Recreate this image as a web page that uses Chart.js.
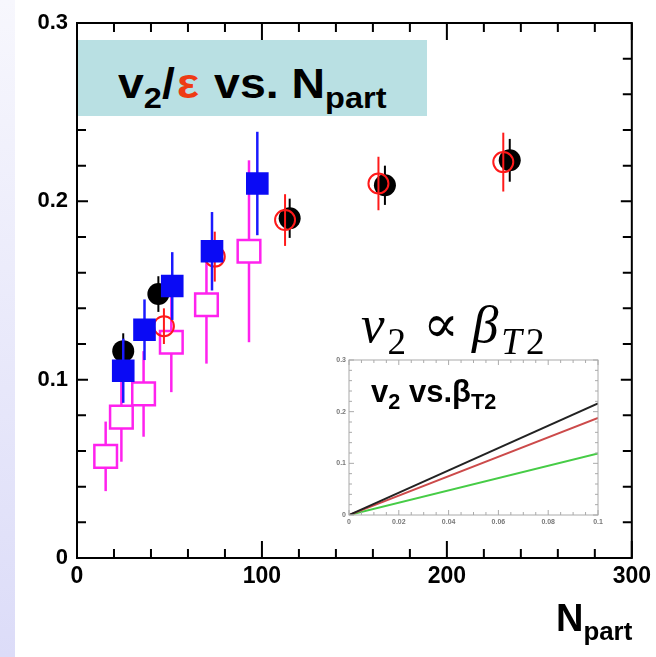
<!DOCTYPE html>
<html>
<head>
<meta charset="utf-8">
<script src="https://cdn.jsdelivr.net/npm/chart.js@4.4.0/dist/chart.umd.min.js"></script>
<style>
  html, body { margin: 0; padding: 0; }
  body { width: 656px; height: 657px; position: relative; overflow: hidden; background: #fff;
         font-family: Arial, "Liberation Sans", sans-serif; }
  #strip { position: absolute; left: 0; top: 0; width: 15px; height: 657px;
           background: linear-gradient(#f7f7fd, #dcdcf8); }
  #main { position: absolute; left: 0; top: 0; }
  #titleBox { position: absolute; left: 78px; top: 40px; width: 349px; height: 76px; background: #b9e0e3; }
  .lbl { position: absolute; white-space: nowrap; font-weight: bold; color: #000; }
  #title { left: 118px; top: 62px; font-size: 43px; line-height: 43px; transform: scaleX(1.08); transform-origin: left top; }
  #title .eps { color: #ee3b14; margin: 0 2px; }
  .sub { position: relative; font-size: 70%; top: 0.34em; }
  #prop { position: absolute; left: 361px; top: 298px; font-family: "Liberation Serif", "DejaVu Serif", serif;
          font-size: 53px; line-height: 53px; font-weight: normal; white-space: nowrap; }
  #prop i { font-style: italic; }
  #prop .psub { position: relative; font-size: 70%; top: 0.33em; margin-left: 3px; }
  #prop .psub .two { margin-left: 4px; }
  #prop .rel { margin: 0 13px 0 17px; }
  #insetWrap { position: absolute; left: 327px; top: 350px; width: 280px; height: 185px; background: #fff; }
  #inset { filter: blur(0.5px); }
  #insetTitle { left: 371px; top: 376px; font-size: 31px; line-height: 31px; }
  #xTitle { left: 556px; top: 599px; font-size: 38px; line-height: 38px; }
  #xTitle .sub { font-size: 68%; top: 0.36em; }
</style>
</head>
<body>
<div id="strip"></div>
<canvas id="main" width="656" height="657"></canvas>
<div id="titleBox"></div>
<div class="lbl" id="title">v<span class="sub">2</span>/<span class="eps">&epsilon;</span> vs. N<span class="sub">part</span></div>
<div id="insetWrap"><canvas id="inset" width="280" height="185"></canvas></div>
<div id="prop"><i>v</i><span class="psub">2</span><span class="rel">&prop;</span><i>&beta;</i><span class="psub"><i>T</i><span class="two">2</span></span></div>
<div class="lbl" id="insetTitle">v<span class="sub">2</span> vs.&beta;<span class="sub">T2</span></div>
<div class="lbl" id="xTitle">N<span class="sub">part</span></div>

<script>
// v2/eps vs Npart, four data sets
const blackN = [25, 44, 115, 166.5, 234];
const blackV = [0.116, 0.148, 0.1905, 0.209, 0.223];
const blackErr = [0.010, 0.010, 0.011, 0.011, 0.012];

const redN = [47, 74.5, 112.5, 163, 230.5];
const redV = [0.130, 0.169, 0.1895, 0.210, 0.222];
const redErr = [0.010, 0.014, 0.0145, 0.015, 0.0165];

const blueN = [25, 36.5, 51.5, 73, 97.5];
const blueV = [0.105, 0.128, 0.1525, 0.172, 0.210];
const blueErr = [0.018, 0.017, 0.019, 0.022, 0.029];

const magN = [15.5, 24, 36, 51, 70, 93];
const magV = [0.057, 0.079, 0.092, 0.121, 0.142, 0.172];
const magErr = [0.0195, 0.025, 0.024, 0.028, 0.033, 0.051];

// inset: v2 vs beta_T2, straight lines from the origin
const betaT2 = [0, 0.1];
const insetBlack = [0, 0.216];
const insetRed = [0, 0.188];
const insetGreen = [0, 0.119];

function pts(xs, ys) {
    return xs.map((x, i) => ({ x: x, y: ys[i] }));
}

// vertical error bars, drawn just before each data set's markers
const errorBars = {
    id: 'errorBars',
    beforeDatasetDraw(chart, args) {
        const ds = chart.data.datasets[args.index];
        if (!ds.errorBars) return;
        const ctx = chart.ctx;
        const xs = chart.scales.x, ys = chart.scales.y;
        ctx.save();
        ctx.strokeStyle = ds.errorColor;
        ctx.lineWidth = ds.errorWidth || 2;
        ds.data.forEach((p, i) => {
            const px = xs.getPixelForValue(p.x);
            ctx.beginPath();
            ctx.moveTo(px, ys.getPixelForValue(p.y - ds.errorBars[i]));
            ctx.lineTo(px, ys.getPixelForValue(p.y + ds.errorBars[i]));
            ctx.stroke();
        });
        ctx.restore();
    }
};

// box frame with inward ticks on all four sides
function frameTicks(opts) {
    return {
        id: 'frameTicks',
        afterDraw(chart) {
            const ctx = chart.ctx, a = chart.chartArea;
            const xs = chart.scales.x, ys = chart.scales.y;
            ctx.save();
            ctx.strokeStyle = opts.color;
            ctx.lineWidth = opts.width;
            ctx.strokeRect(a.left, a.top, a.right - a.left, a.bottom - a.top);
            ctx.beginPath();
            for (let v = xs.min; v <= xs.max + 1e-9; v += opts.xMinor) {
                const px = xs.getPixelForValue(v);
                const major = Math.abs(v / opts.xMajor - Math.round(v / opts.xMajor)) < 1e-6;
                const len = major ? opts.majorLen : opts.minorLen;
                ctx.moveTo(px, a.bottom); ctx.lineTo(px, a.bottom - len);
                ctx.moveTo(px, a.top); ctx.lineTo(px, a.top + len);
            }
            for (let v = ys.min; v <= ys.max + 1e-9; v += opts.yMinor) {
                const py = ys.getPixelForValue(v);
                const major = Math.abs(v / opts.yMajor - Math.round(v / opts.yMajor)) < 1e-6;
                const len = major ? opts.yMajorLen : opts.minorLen;
                ctx.moveTo(a.left, py); ctx.lineTo(a.left + len, py);
                ctx.moveTo(a.right, py); ctx.lineTo(a.right - len, py);
            }
            ctx.stroke();
            ctx.restore();
        }
    };
}

new Chart(document.getElementById('main').getContext('2d'), {
    type: 'scatter',
    data: {
        datasets: [
            {
                label: 'blue', data: pts(blueN, blueV),
                pointStyle: 'rect', pointRadius: 16, backgroundColor: '#0a0af5', borderColor: '#0a0af5', borderWidth: 0,
                errorBars: blueErr, errorColor: '#1a1aff', errorWidth: 2.5
            },
            {
                label: 'red', data: pts(redN, redV),
                pointStyle: 'circle', pointRadius: 10, backgroundColor: 'rgba(0,0,0,0)', borderColor: '#ff1a1a', borderWidth: 2,
                errorBars: redErr, errorColor: '#ff1a1a', errorWidth: 2
            },
            {
                label: 'magenta', data: pts(magN, magV),
                pointStyle: 'rect', pointRadius: 16, backgroundColor: '#ffffff', borderColor: '#ff22ee', borderWidth: 2.5,
                errorBars: magErr, errorColor: '#ff22ee', errorWidth: 2.5
            },
            {
                label: 'black', data: pts(blackN, blackV),
                pointStyle: 'circle', pointRadius: 11, backgroundColor: '#000', borderColor: '#000', borderWidth: 0,
                errorBars: blackErr, errorColor: '#000', errorWidth: 2
            }
        ]
    },
    options: {
        responsive: false,
        animation: false,
        events: [],
        layout: { padding: { left: 0, right: 24, top: 23, bottom: 0 } },
        plugins: { legend: { display: false }, tooltip: { enabled: false } },
        scales: {
            x: {
                type: 'linear', min: 0, max: 300,
                grid: { display: false, drawTicks: false }, border: { display: false },
                ticks: { stepSize: 100, padding: 5, color: '#000', font: { family: 'Arial', size: 23, weight: 'bold' } },
                afterFit(s) { s.height = 99; }
            },
            y: {
                type: 'linear', min: 0, max: 0.3,
                grid: { display: false, drawTicks: false }, border: { display: false },
                ticks: {
                    stepSize: 0.1, padding: 9, color: '#000', font: { family: 'Arial', size: 22, weight: 'bold' },
                    callback: v => (Math.abs(v) < 1e-9 ? '0' : v.toFixed(1))
                },
                afterFit(s) { s.width = 77; }
            }
        }
    },
    plugins: [errorBars, frameTicks({ color: '#000', width: 2, xMinor: 20, xMajor: 100, yMinor: 0.02, yMajor: 0.1,
                                      majorLen: 17, yMajorLen: 11, minorLen: 9 })]
});

new Chart(document.getElementById('inset').getContext('2d'), {
    type: 'scatter',
    data: {
        datasets: [
            { data: pts(betaT2, insetBlack), showLine: true, borderColor: '#222', borderWidth: 2, pointRadius: 0 },
            { data: pts(betaT2, insetRed), showLine: true, borderColor: '#cc4a4a', borderWidth: 2, pointRadius: 0 },
            { data: pts(betaT2, insetGreen), showLine: true, borderColor: '#46cc46', borderWidth: 2, pointRadius: 0 }
        ]
    },
    options: {
        responsive: false,
        animation: false,
        events: [],
        layout: { padding: { left: 0, right: 9, top: 10, bottom: 0 } },
        plugins: { legend: { display: false }, tooltip: { enabled: false } },
        scales: {
            x: {
                type: 'linear', min: 0, max: 0.1,
                grid: { display: false, drawTicks: false }, border: { display: false },
                ticks: { stepSize: 0.02, padding: 3, color: '#777', font: { family: 'Arial', size: 7, weight: 'bold' },
                         callback: v => (Math.abs(v) < 1e-9 ? '0' : String(+v.toFixed(2))) },
                afterFit(s) { s.height = 20; }
            },
            y: {
                type: 'linear', min: 0, max: 0.3,
                grid: { display: false, drawTicks: false }, border: { display: false },
                ticks: { stepSize: 0.1, padding: 3, color: '#777', font: { family: 'Arial', size: 7, weight: 'bold' },
                         callback: v => (Math.abs(v) < 1e-9 ? '0' : v.toFixed(1)) },
                afterFit(s) { s.width = 22; }
            }
        }
    },
    plugins: [frameTicks({ color: '#aaa', width: 1, xMinor: 0.005, xMajor: 0.02, yMinor: 0.02, yMajor: 0.1,
                           majorLen: 5, yMajorLen: 5, minorLen: 3 })]
});
</script>
</body>
</html>
